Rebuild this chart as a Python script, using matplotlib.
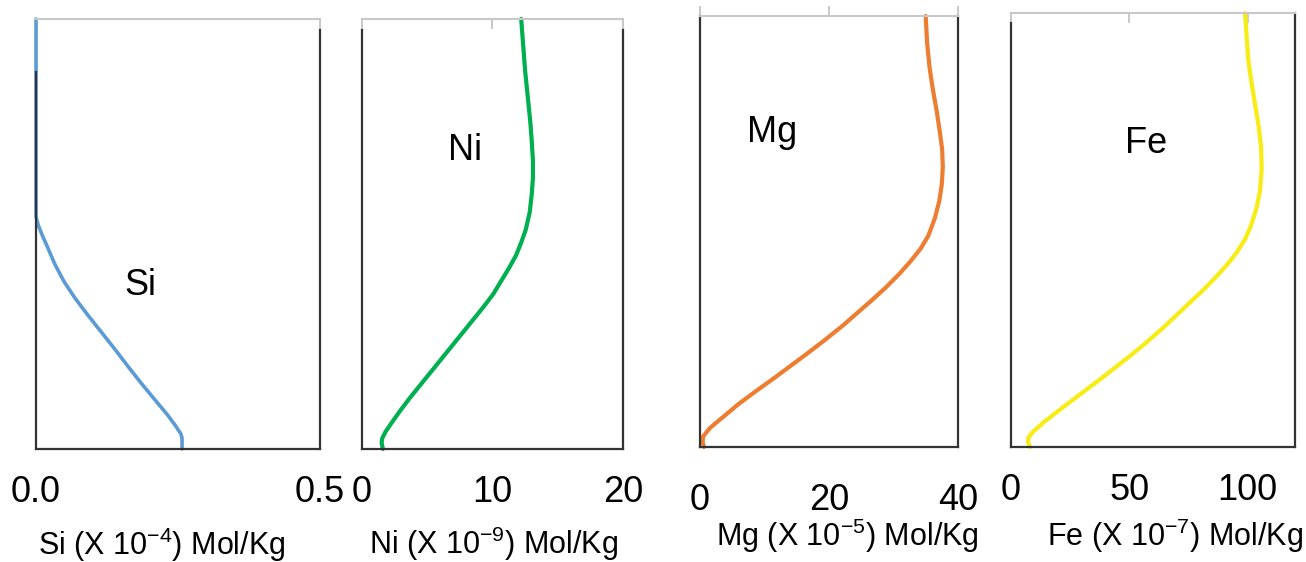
import matplotlib
matplotlib.use('Agg')
import matplotlib.pyplot as plt

plt.rcParams['font.family'] = ['Liberation Sans', 'DejaVu Sans']
plt.rcParams['mathtext.fontset'] = 'custom'
plt.rcParams['mathtext.rm'] = 'Liberation Sans'
plt.rcParams['mathtext.it'] = 'Liberation Sans:italic'

# ---- depth profiles (0 = top, 100 = bottom)
si_depth = [0, 46, 48, 50, 53, 57, 61, 65, 69, 73, 77, 81, 85, 89, 92, 94.5, 96.5, 97.5, 100]
si_val = [0, 0, 0.004, 0.010, 0.020, 0.033, 0.049, 0.069, 0.092, 0.116, 0.140,
          0.163, 0.187, 0.212, 0.231, 0.245, 0.255, 0.257, 0.257]

ni_depth = [0, 6, 12, 18, 24, 28, 33, 37, 41, 45, 49, 52, 55, 58, 61, 64, 67, 70,
            73, 76, 79, 82, 85, 88, 91, 94, 96, 97.5, 98.6, 100]
ni_val = [12.2, 12.35, 12.5, 12.7, 12.9, 13.0, 13.1, 13.1, 13.0, 12.85, 12.55, 12.2,
          11.8, 11.25, 10.65, 10.05, 9.3, 8.5, 7.7, 6.9, 6.1, 5.3, 4.5, 3.7, 2.95,
          2.25, 1.8, 1.55, 1.5, 1.6]

mg_depth = [0, 6, 12, 17, 22, 27, 31, 35, 39, 43, 47, 51, 54, 57, 60, 63, 66, 69,
            72, 75, 78, 81, 84, 87, 90, 93, 95.5, 97.5, 98.8, 100]
mg_val = [35.0, 35.2, 35.6, 36.1, 36.7, 37.2, 37.55, 37.65, 37.5, 37.1, 36.4, 35.4,
          34.2, 32.6, 30.8, 28.8, 26.6, 24.3, 22.0, 19.5, 16.9, 14.2, 11.5, 8.7, 6.0,
          3.6, 1.6, 0.5, 0.4, 0.6]

fe_depth = [0, 5, 11, 16, 21, 26, 31, 36, 41, 45, 49, 52, 55, 58, 61, 64, 67, 70,
            73, 76, 79, 82, 85, 88, 91, 94, 96.5, 97.8, 98.8, 100]
fe_val = [98.9, 99.5, 100.3, 101.6, 103.1, 104.6, 105.7, 105.9, 105.2, 103.7, 101.4,
          99.0, 95.6, 91.3, 86.3, 80.9, 75.0, 69.2, 63.3, 57.0, 50.3, 43.3, 36.2, 28.9,
          21.6, 14.5, 9.3, 7.4, 7.2, 8.0]

names = ['Si', 'Ni', 'Mg', 'Fe']
xlabels = [r'Si (X 10$^{\mathrm{-4}}$) Mol/Kg', r'Ni (X 10$^{\mathrm{-9}}$) Mol/Kg',
           r'Mg (X 10$^{\mathrm{-5}}$) Mol/Kg', r'Fe (X 10$^{\mathrm{-7}}$) Mol/Kg']
xticks = [[0, 0.5], [0, 10, 20], [0, 20, 40], [0, 50, 100]]
xticklabels = [['0.0', '0.5'], ['0', '10', '20'], ['0', '20', '40'], ['0', '50', '100']]
xlims = [(0, 0.5), (0, 20), (0, 40), (0, 120)]
colors = ['#5B9BD5', '#00B050', '#ED7D31', '#F7EC13']
profiles = [(si_val, si_depth), (ni_val, ni_depth), (mg_val, mg_depth), (fe_val, fe_depth)]

# ---- layout of the four panels
rects = [[0.0276, 0.2011, 0.2175, 0.7651],
         [0.2772, 0.2011, 0.1998, 0.7651],
         [0.5360, 0.2046, 0.1975, 0.7669],
         [0.7741, 0.2046, 0.2175, 0.7722]]
left_start = [12.3, 2.6, 0, 2.3]
right_start = [2.6, 2.6, 0, 0]
tick_dir = ['in', 'in', 'out', 'in']
text_pos = [(0.183, 62), (7.9, 30.5), (11.2, 27.1), (57, 30)]
label_pos = [(0.444, -0.246), (0.506, -0.244), (0.570, -0.230), (0.577, -0.229)]

fig = plt.figure(figsize=(13.06, 5.62), dpi=100)

for i in range(4):
    ax = fig.add_axes(rects[i])
    x, d = profiles[i]
    ax.plot(x, d, color=colors[i], lw=3 if i else 2.6, clip_on=False,
            solid_capstyle='round', solid_joinstyle='round', zorder=2)
    ax.set_xlim(*xlims[i])
    ax.set_ylim(100, 0)
    ax.set_yticks([])
    ax.set_xticks(xticks[i])
    ax.set_xticklabels(xticklabels[i])
    ax.tick_params(axis='x', top=True, bottom=False, labeltop=False, labelbottom=True,
                   direction=tick_dir[i], length=7, width=1.2, color='#BFBFBF',
                   labelsize=26, pad=19)
    ax.spines['top'].set_color('#C8C8C8')
    ax.spines['top'].set_linewidth(1.5)
    for s in ['left', 'right', 'bottom']:
        ax.spines[s].set_color('#333333')
        ax.spines[s].set_linewidth(1.6)
    ax.spines['left'].set_bounds(100, left_start[i])
    ax.spines['right'].set_bounds(100, right_start[i])
    ax.text(text_pos[i][0], text_pos[i][1], names[i], fontsize=26,
            ha='center', va='center')
    ax.text(label_pos[i][0], label_pos[i][1], xlabels[i], fontsize=22,
            ha='center', va='baseline', transform=ax.transAxes)

fig.savefig('out.png', dpi=100)
